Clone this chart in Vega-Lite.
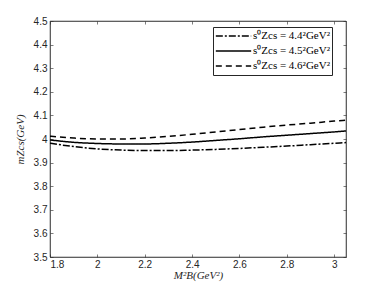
{
  "$schema": "https://vega.github.io/schema/vega-lite/v6.json",
  "autosize": {"type": "none"},
  "padding": {"left": 50, "top": 21, "right": 36, "bottom": 29},
  "width": 296,
  "height": 236,
  "background": "white",
  "config": {
    "view": {"stroke": "#262626", "strokeWidth": 0.6},
    "axis": {
      "domainColor": "#262626", "tickColor": "#262626", "labelColor": "#262626",
      "titleColor": "#262626", "grid": false, "labelFont": "Liberation Sans",
      "labelFontSize": 10, "tickSize": -3, "domainWidth": 0.6, "tickWidth": 0.6,
      "titleFont": "Liberation Serif", "titleFontSize": 11, "titleFontWeight": "normal", "titleFontStyle": "italic"
    }
  },
  "data": {"values": [
    {"x": 1.8, "y": 3.982, "s": "s⁰Zcs = 4.4²GeV²"},
    {"x": 1.9, "y": 3.968, "s": "s⁰Zcs = 4.4²GeV²"},
    {"x": 2.0, "y": 3.958, "s": "s⁰Zcs = 4.4²GeV²"},
    {"x": 2.1, "y": 3.953, "s": "s⁰Zcs = 4.4²GeV²"},
    {"x": 2.2, "y": 3.951, "s": "s⁰Zcs = 4.4²GeV²"},
    {"x": 2.3, "y": 3.951, "s": "s⁰Zcs = 4.4²GeV²"},
    {"x": 2.4, "y": 3.953, "s": "s⁰Zcs = 4.4²GeV²"},
    {"x": 2.5, "y": 3.956, "s": "s⁰Zcs = 4.4²GeV²"},
    {"x": 2.6, "y": 3.960, "s": "s⁰Zcs = 4.4²GeV²"},
    {"x": 2.7, "y": 3.965, "s": "s⁰Zcs = 4.4²GeV²"},
    {"x": 2.8, "y": 3.970, "s": "s⁰Zcs = 4.4²GeV²"},
    {"x": 2.9, "y": 3.976, "s": "s⁰Zcs = 4.4²GeV²"},
    {"x": 3.0, "y": 3.982, "s": "s⁰Zcs = 4.4²GeV²"},
    {"x": 3.05, "y": 3.985, "s": "s⁰Zcs = 4.4²GeV²"},
    {"x": 1.8, "y": 3.996, "s": "s⁰Zcs = 4.5²GeV²"},
    {"x": 1.9, "y": 3.986, "s": "s⁰Zcs = 4.5²GeV²"},
    {"x": 2.0, "y": 3.981, "s": "s⁰Zcs = 4.5²GeV²"},
    {"x": 2.1, "y": 3.979, "s": "s⁰Zcs = 4.5²GeV²"},
    {"x": 2.2, "y": 3.979, "s": "s⁰Zcs = 4.5²GeV²"},
    {"x": 2.3, "y": 3.982, "s": "s⁰Zcs = 4.5²GeV²"},
    {"x": 2.4, "y": 3.987, "s": "s⁰Zcs = 4.5²GeV²"},
    {"x": 2.5, "y": 3.994, "s": "s⁰Zcs = 4.5²GeV²"},
    {"x": 2.6, "y": 4.001, "s": "s⁰Zcs = 4.5²GeV²"},
    {"x": 2.7, "y": 4.009, "s": "s⁰Zcs = 4.5²GeV²"},
    {"x": 2.8, "y": 4.016, "s": "s⁰Zcs = 4.5²GeV²"},
    {"x": 2.9, "y": 4.023, "s": "s⁰Zcs = 4.5²GeV²"},
    {"x": 3.0, "y": 4.030, "s": "s⁰Zcs = 4.5²GeV²"},
    {"x": 3.05, "y": 4.034, "s": "s⁰Zcs = 4.5²GeV²"},
    {"x": 1.8, "y": 4.012, "s": "s⁰Zcs = 4.6²GeV²"},
    {"x": 1.9, "y": 4.004, "s": "s⁰Zcs = 4.6²GeV²"},
    {"x": 2.0, "y": 4.000, "s": "s⁰Zcs = 4.6²GeV²"},
    {"x": 2.1, "y": 4.000, "s": "s⁰Zcs = 4.6²GeV²"},
    {"x": 2.2, "y": 4.004, "s": "s⁰Zcs = 4.6²GeV²"},
    {"x": 2.3, "y": 4.011, "s": "s⁰Zcs = 4.6²GeV²"},
    {"x": 2.4, "y": 4.020, "s": "s⁰Zcs = 4.6²GeV²"},
    {"x": 2.5, "y": 4.030, "s": "s⁰Zcs = 4.6²GeV²"},
    {"x": 2.6, "y": 4.040, "s": "s⁰Zcs = 4.6²GeV²"},
    {"x": 2.7, "y": 4.050, "s": "s⁰Zcs = 4.6²GeV²"},
    {"x": 2.8, "y": 4.059, "s": "s⁰Zcs = 4.6²GeV²"},
    {"x": 2.9, "y": 4.067, "s": "s⁰Zcs = 4.6²GeV²"},
    {"x": 3.0, "y": 4.076, "s": "s⁰Zcs = 4.6²GeV²"},
    {"x": 3.05, "y": 4.080, "s": "s⁰Zcs = 4.6²GeV²"}
  ]},
  "layer": [
    {
      "mark": {"type": "line", "color": "black", "strokeWidth": 1.5, "interpolate": "monotone"},
      "encoding": {
        "x": {"field": "x", "type": "quantitative",
              "scale": {"domain": [1.8, 3.05], "nice": false, "zero": false},
              "axis": {"values": [1.8, 2, 2.2, 2.4, 2.6, 2.8, 3], "format": "~g", "title": "M²B(GeV²)", "labelPadding": 5, "titlePadding": 0}},
        "y": {"field": "y", "type": "quantitative",
              "scale": {"domain": [3.5, 4.5], "nice": false, "zero": false},
              "axis": {"values": [3.5, 3.6, 3.7, 3.8, 3.9, 4, 4.1, 4.2, 4.3, 4.4, 4.5], "format": "~g", "title": "mZcs(GeV)", "labelPadding": 6, "titlePadding": 8}},
        "strokeDash": {"field": "s", "type": "nominal",
              "scale": {"range": [[7, 2, 2, 2], [1, 0], [6, 4]]},
              "legend": {"orient": "none", "legendX": 163, "legendY": 6, "title": null, "symbolType": "stroke",
                         "symbolSize": 1250, "symbolStrokeWidth": 1.5, "symbolStrokeColor": "black",
                         "clipHeight": 14, "symbolOffset": 0,
                         "labelFont": "Liberation Serif", "labelFontSize": 11, "labelColor": "black",
                         "strokeColor": "#262626", "fillColor": "white", "padding": 2, "rowPadding": 1,
                         "labelOffset": 1}}
      }
    },
    {
      "mark": {"type": "line", "opacity": 0},
      "encoding": {
        "x": {"field": "x", "type": "quantitative", "scale": {"domain": [1.8, 3.05], "nice": false, "zero": false},
              "axis": {"orient": "top", "values": [1.8, 2, 2.2, 2.4, 2.6, 2.8, 3], "labels": false, "title": null}},
        "y": {"field": "y", "type": "quantitative", "scale": {"domain": [3.5, 4.5], "nice": false, "zero": false},
              "axis": {"orient": "right", "values": [3.5, 3.6, 3.7, 3.8, 3.9, 4, 4.1, 4.2, 4.3, 4.4, 4.5], "labels": false, "title": null}},
        "detail": {"field": "s"}
      }
    }
  ],
  "resolve": {"axis": {"x": "independent", "y": "independent"}}
}
